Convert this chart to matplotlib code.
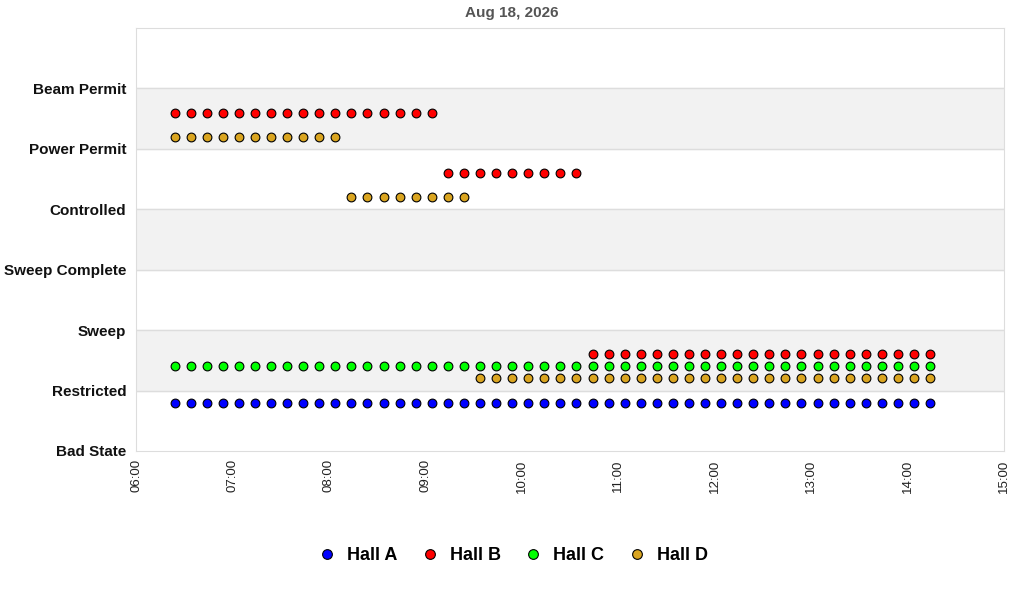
import pandas as pd
import numpy as np
import matplotlib
matplotlib.use("Agg")
import matplotlib.pyplot as plt
import matplotlib.dates as mdates
from matplotlib.lines import Line2D

plt.rcParams['font.family'] = ['Liberation Sans', 'DejaVu Sans']

# state labels, bottom to top
state_names = ["Bad State", "Restricted", "Sweep", "Sweep Complete",
               "Controlled", "Power Permit", "Beam Permit"]

# samples every 10 minutes
times = pd.date_range("2026-08-18 06:24", periods=48, freq="10min")

halls = ["Hall A", "Hall B", "Hall C", "Hall D"]
colors = ["#0000ff", "#ff0000", "#00ff00", "#daa520"]
offsets = [0.8, 0.6, 0.4, 0.2]

hall_a = [0] * 48
hall_b = [5] * 17 + [4] * 9 + [1] * 22
hall_c = [1] * 48
hall_d = [5] * 11 + [4] * 8 + [1] * 29
states = [hall_a, hall_b, hall_c, hall_d]

fig = plt.figure(figsize=(10.24, 6), dpi=100)
ax = fig.add_axes([136 / 1024, 1 - 451 / 600, 868 / 1024, 423 / 600])

# alternating bands
for k in [1, 3, 5]:
    ax.axhspan(k, k + 1, color="#f2f2f2", zorder=0)
for k in range(1, 7):
    ax.axhline(k, color="#dddddd", lw=1, zorder=1)

for name, col, off, st in zip(halls, colors, offsets, states):
    y = np.array(st) + off
    ax.plot(times, y, linestyle="none", marker="o", markersize=6.3,
            markerfacecolor=col, markeredgecolor="black", markeredgewidth=0.8,
            zorder=3, label=name)

ax.set_xlim(pd.Timestamp("2026-08-18 06:00"), pd.Timestamp("2026-08-18 15:00"))
ax.set_ylim(0, 7)
ax.xaxis.set_major_locator(mdates.HourLocator())
ax.xaxis.set_major_formatter(mdates.DateFormatter("%H:%M"))
ax.set_yticks(range(7))
ax.set_yticklabels(state_names, fontsize=11, fontweight="bold", color="#111111")
ax.tick_params(axis="x", length=0, pad=6, labelsize=9.5, labelrotation=90, colors="#222222")
ax.tick_params(axis="y", length=0, pad=7)
for s in ax.spines.values():
    s.set_color("#dddddd")

fig.text(0.5, 1 - 13 / 600, "Aug 18, 2026", ha="center", va="center",
         fontsize=11, fontweight="bold", color="#555555")

handles = [Line2D([], [], linestyle="none", marker="o", markersize=7,
                  markerfacecolor=c, markeredgecolor="black", markeredgewidth=0.8)
           for c in colors]
fig.legend(handles, halls, loc="center", bbox_to_anchor=(0.5, 1 - 556 / 600),
           ncol=4, frameon=False, prop={"weight": "bold", "size": 13},
           handletextpad=0.5, columnspacing=1.2, handlelength=1.2)

fig.savefig("out.png", dpi=100)
